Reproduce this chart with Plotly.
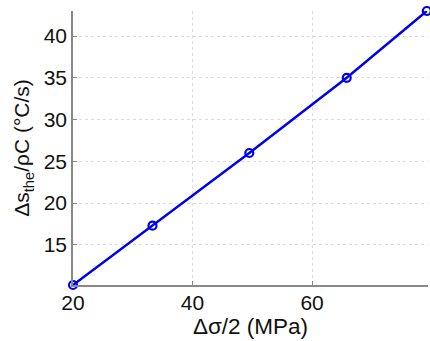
import plotly.graph_objects as go

stress_amp = [20.0, 33.3, 49.5, 65.8, 79.2]
heat_rate = [10.2, 17.3, 26.0, 35.0, 43.0]
x_ticks = [20, 40, 60]
y_ticks = [15, 20, 25, 30, 35, 40]

fig = go.Figure()
fig.add_trace(go.Scatter(
    x=stress_amp, y=heat_rate, mode="lines+markers",
    line=dict(color="#0000f0", width=2.5),
    marker=dict(symbol="circle-open", size=8, color="#0000f0", line=dict(width=2.2)),
    cliponaxis=False, showlegend=False,
))
fnt = dict(family="Liberation Sans, Arial, sans-serif", size=21, color="#111")
xfnt = dict(fnt, size=22.5)
fig.update_layout(
    width=430, height=341,
    margin=dict(l=73, r=2, t=11, b=56, autoexpand=False),
    plot_bgcolor="white", paper_bgcolor="white",
    font=fnt,
    xaxis=dict(
        range=[20, 79.4], tickvals=x_ticks, showgrid=True,
        gridcolor="#dcdcdc", griddash="dot", gridwidth=1,
        showline=True, linecolor="#888", linewidth=1.5,
        ticks="inside", ticklen=4, tickcolor="#888",
        zeroline=False, tickfont=fnt, ticklabelstandoff=-2,
        title=dict(text="Δσ/2 (MPa)", font=xfnt, standoff=0),
    ),
    yaxis=dict(
        range=[10.2, 43.0], tickvals=y_ticks, showgrid=True,
        gridcolor="#dcdcdc", griddash="dot", gridwidth=1,
        showline=True, linecolor="#888", linewidth=1.5,
        ticks="inside", ticklen=4, tickcolor="#888",
        zeroline=False, tickfont=fnt,
        title=dict(text="Δs<sub>the</sub>/ρC (°C/s)", font=fnt, standoff=8),
    ),
)
fig.write_html(
    "out.html",
    config={"displayModeBar": False},
    post_script="document.body.style.margin='0';document.body.style.overflow='hidden';",
)
